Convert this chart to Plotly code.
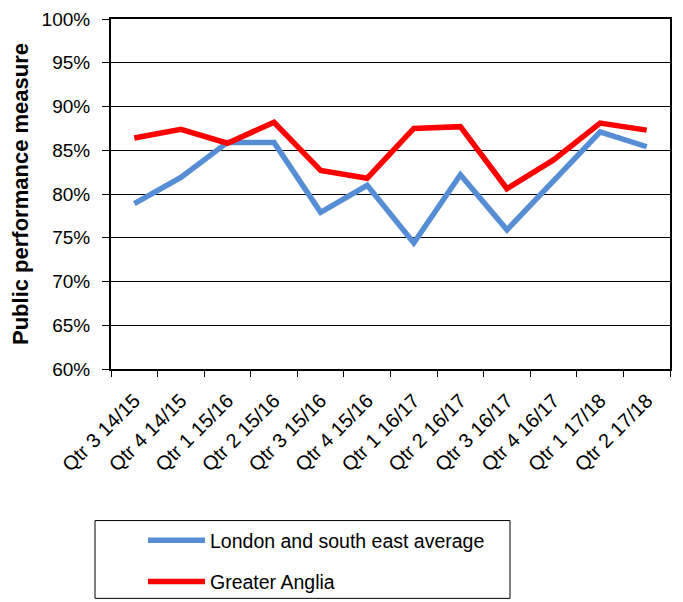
import plotly.graph_objects as go

categories = ["Qtr 3 14/15", "Qtr 4 14/15", "Qtr 1 15/16", "Qtr 2 15/16", "Qtr 3 15/16",
              "Qtr 4 15/16", "Qtr 1 16/17", "Qtr 2 16/17", "Qtr 3 16/17", "Qtr 4 16/17",
              "Qtr 1 17/18", "Qtr 2 17/18"]
london_se = [78.9, 81.9, 85.9, 85.9, 77.9, 81.0, 74.4, 82.2, 75.9, 81.5, 87.1, 85.4]
greater_anglia = [86.4, 87.4, 85.8, 88.2, 82.7, 81.8, 87.5, 87.7, 80.6, 83.9, 88.1, 87.3]
y_ticks = [60, 65, 70, 75, 80, 85, 90, 95, 100]
y_tick_labels = [f"{v}%" for v in y_ticks]

FONT = "Liberation Sans, Arial, sans-serif"

# page body has an 8px default margin; margins below compensate for it
PLOT_W, PLOT_H = 559, 351

fig = go.Figure()
fig.add_trace(go.Scatter(x=categories, y=london_se, mode="lines",
                         name="London and south east average", legendgroup="a",
                         line=dict(color="#558ED5", width=5.5)))
fig.add_trace(go.Scatter(x=categories, y=greater_anglia, mode="lines",
                         name="Greater Anglia", legendgroup="b",
                         line=dict(color="#FF0000", width=5.5)))

fig.update_layout(
    width=683, height=602,
    margin=dict(l=103, r=21, t=11, b=240),
    plot_bgcolor="white", paper_bgcolor="white",
    font=dict(family=FONT, color="black"),
    showlegend=True,
    legend=dict(x=(143 - 111) / PLOT_W, y=(370 - 521) / PLOT_H, xanchor="left", yanchor="top",
                font=dict(size=19.5, family=FONT), bgcolor="rgba(0,0,0,0)",
                borderwidth=0, tracegroupgap=13, itemwidth=57),
    shapes=[dict(type="rect", xref="paper", yref="paper",
                 x0=(95 - 111) / PLOT_W, x1=(510 - 111) / PLOT_W,
                 y0=(370 - 600) / PLOT_H, y1=(370 - 522) / PLOT_H,
                 line=dict(color="black", width=1), fillcolor="rgba(0,0,0,0)")],
)
fig.update_xaxes(type="category", tickangle=-45, tickfont=dict(size=20),
                 ticks="outside", tickson="boundaries", ticklen=6, tickcolor="black",
                 ticklabelstandoff=10,
                 showline=True, linecolor="black", linewidth=2, mirror=True,
                 showgrid=False, range=[-0.5, 11.5], automargin=False)
fig.update_yaxes(range=[60, 100], tickvals=y_ticks, ticktext=y_tick_labels,
                 tickfont=dict(size=19), ticks="outside", ticklen=7, tickcolor="black",
                 ticklabelstandoff=8, ticklabeloverflow="allow",
                 showline=True, linecolor="black", linewidth=2, mirror=True,
                 showgrid=True, gridcolor="black", gridwidth=1, zeroline=False,
                 automargin=False,
                 title=dict(text="<b>Public performance measure</b>", font=dict(size=22), standoff=12))

fig.write_html("out.html", config={"displayModeBar": False})
